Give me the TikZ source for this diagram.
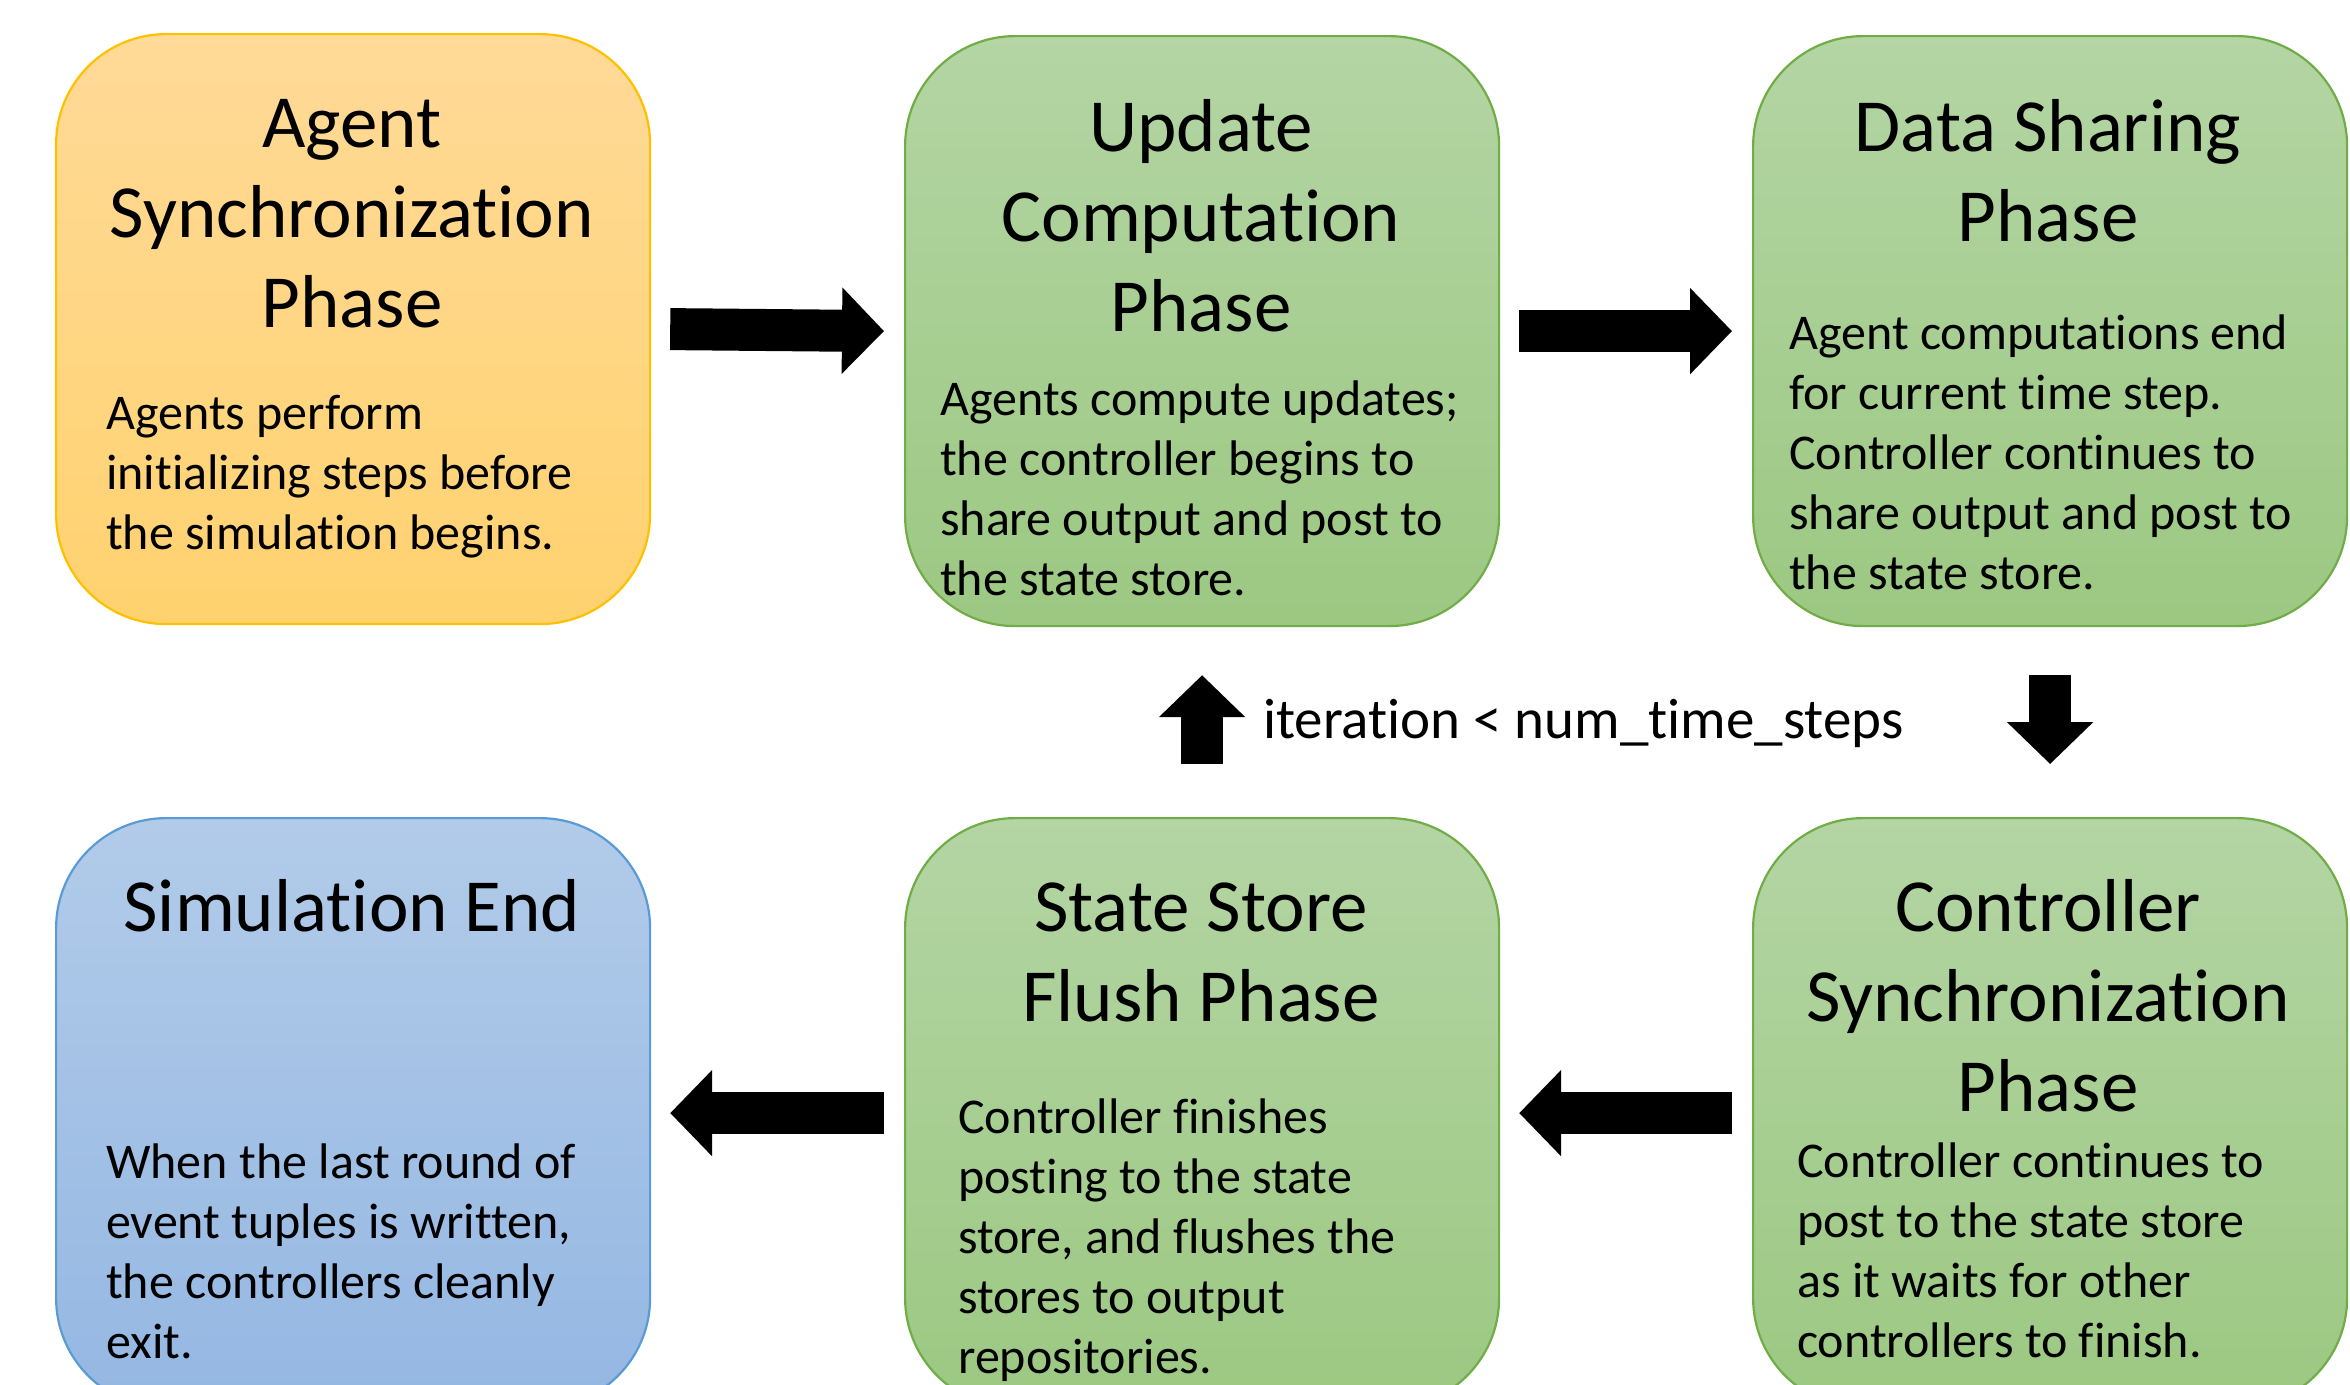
\documentclass[tikz,border=0pt]{standalone}
\usepackage{fontspec}
\setmainfont{Carlito}[Ligatures=NoCommon]
\usetikzlibrary{arrows.meta}
\definecolor{orTop}{HTML}{FFDA98}
\definecolor{orBot}{HTML}{FFD26F}
\definecolor{orLine}{HTML}{FFC000}
\definecolor{grTop}{HTML}{B4D5A4}
\definecolor{grBot}{HTML}{9CC882}
\definecolor{grLine}{HTML}{70AD47}
\definecolor{blTop}{HTML}{B2CBE9}
\definecolor{blBot}{HTML}{94B7E2}
\definecolor{blLine}{HTML}{5B9BD5}
\begin{document}
\begin{tikzpicture}[x=1pt,y=1pt,
  phase/.style={draw, line width=2.2pt, rounded corners=110pt, anchor=north west,
    minimum width=594pt, minimum height=590pt, inner sep=0pt},
  orangebox/.style={phase, draw=orLine, top color=orTop, bottom color=orBot},
  greenbox/.style={phase, draw=grLine, top color=grTop, bottom color=grBot},
  bluebox/.style={phase, draw=blLine, top color=blTop, bottom color=blBot},
  title/.style={anchor=base, align=center, inner sep=0pt, font=\fontsize{75}{90}\selectfont},
  body/.style={anchor=base west, align=left, inner sep=0pt, font=\fontsize{50}{60}\selectfont},
  bigarrow/.style={line width=42pt, -{Triangle[length=42pt,width=84pt]}},
]
\useasboundingbox (0,0) rectangle (2350,-1384);
\begin{scope}
\clip (0,0) rectangle (2350,-1384);
% boxes
\node[orangebox] (n1) at (55,-33) {};
\node[greenbox] (n2) at (904,-35) {};
\node[greenbox] (n3) at (1752,-35) {};
\node[bluebox] (n4) at (55,-817) {};
\node[greenbox] (n5) at (904,-817) {};
\node[greenbox] (n6) at (1752,-817) {};

% titles (anchor = baseline of last line)
\node[title] (t1) at (352,-327) {Agent\\Synchronization\\Phase};
\node[title] (t2) at (1201,-331) {Update\\Computation\\Phase};
\node[title] (t3) at (2048,-241) {Data Sharing\\Phase};
\node[title] (t4) at (352,-931) {Simulation End};
\node[title] (t5) at (1201,-1021) {State Store\\Flush Phase};
\node[title] (t6) at (2048,-1111) {Controller\\Synchronization\\Phase};

% bodies (anchor = baseline of last line)
\node[body] (b1) at (106,-549) {Agents perform\\initializing steps before\\the simulation begins.};
\node[body] (b2) at (940,-595) {Agents compute updates;\\the controller begins to\\share output and post to\\the state store.};
\node[body] (b3) at (1789,-589) {Agent computations end\\for current time step.\\Controller continues to\\share output and post to\\the state store.};
\node[body] (b4) at (106,-1358) {When the last round of\\event tuples is written,\\the controllers cleanly\\exit.};
\node[body] (b5) at (958,-1373) {Controller finishes\\posting to the state\\store, and flushes the\\stores to output\\repositories.};
\node[body] (b6) at (1797,-1357) {Controller continues to\\post to the state store\\as it waits for other\\controllers to finish.};
\end{scope}

% label
\node[anchor=base west, inner sep=0pt, font=\fontsize{57}{68}\selectfont] (lbl) at (1263,-738) {iteration < num\_time\_steps};

% arrows
\draw[bigarrow] ([xshift=19pt]n1.east) -- ([xshift=-20pt]n2.west);
\draw[bigarrow] ([xshift=19pt]n2.east) -- ([xshift=-20pt]n3.west);
\draw[bigarrow] ([yshift=-48pt]n3.south) -- ([yshift=53pt]n6.north);
\draw[bigarrow] ([yshift=53pt]n5.north) -- ([yshift=-48pt]n2.south);
\draw[bigarrow] ([xshift=-20pt]n6.west) -- ([xshift=19pt]n5.east);
\draw[bigarrow] ([xshift=-20pt]n5.west) -- ([xshift=19pt]n4.east);
\end{tikzpicture}
\end{document}
